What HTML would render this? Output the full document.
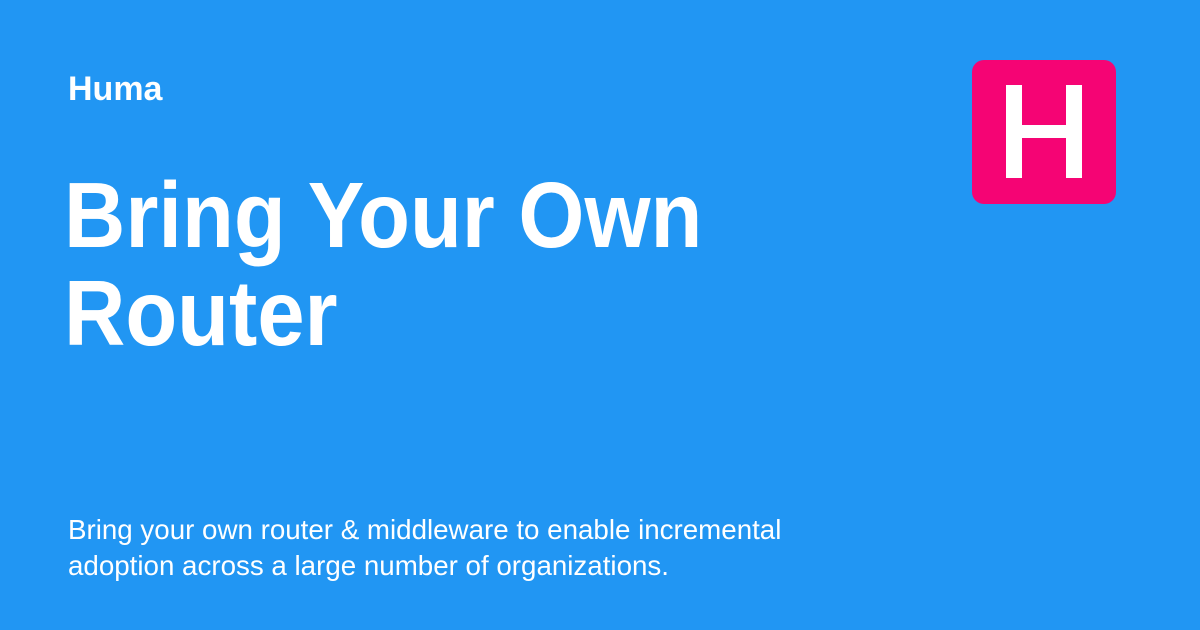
<!DOCTYPE html>
<html><head><meta charset="utf-8"><style>
html,body{margin:0;padding:0}
body{width:1200px;height:630px;background:#2196F3;position:relative;overflow:hidden;font-family:"Liberation Sans",sans-serif;color:#fff}
.t{position:absolute;white-space:nowrap}
.logo{position:absolute;left:972px;top:60px;width:144px;height:144px;background:#F50474;border-radius:12px}
.b{position:absolute;background:#fff}
</style></head><body>
<div class="t" style="left:68px;top:70px;font-size:34px;font-weight:bold;">Huma</div>
<div class="t" style="left:64px;top:166px;font-size:93px;font-weight:bold;line-height:98px;transform:scaleX(0.913);transform-origin:0 0;">Bring Your Own<br>Router</div>
<div class="t" style="left:68px;top:512px;font-size:28px;line-height:36px;transform:scaleX(0.99);transform-origin:0 0;">Bring your own router &amp; middleware to enable incremental<br>adoption across a large number of organizations.</div>
<div class="logo"></div>
<div class="b" style="left:1006px;top:85px;width:16px;height:93px"></div>
<div class="b" style="left:1066px;top:85px;width:16px;height:93px"></div>
<div class="b" style="left:1006px;top:125px;width:76px;height:13px"></div>
</body></html>
